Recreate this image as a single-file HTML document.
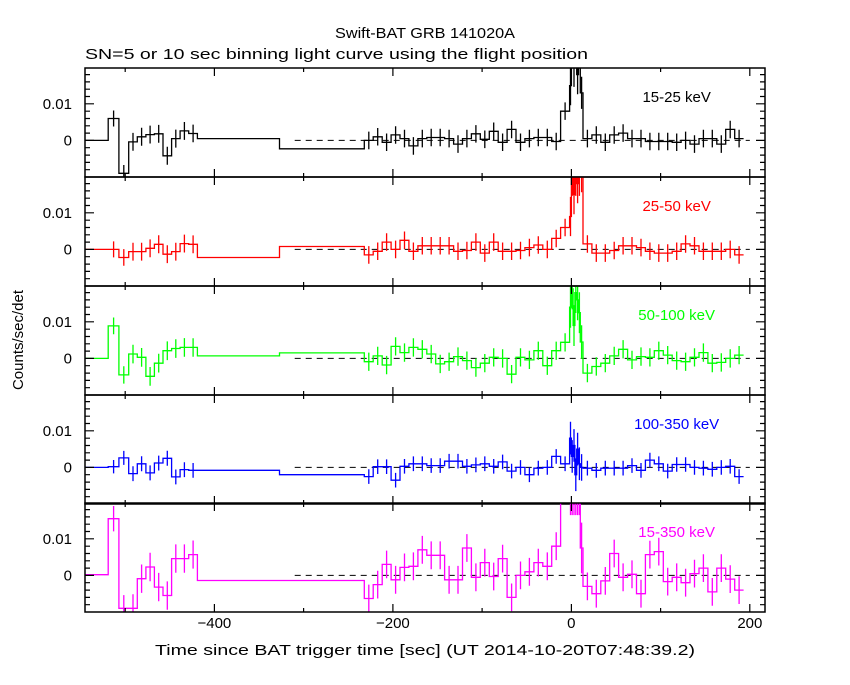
<!DOCTYPE html>
<html><head><meta charset="utf-8"><style>
body{margin:0;background:#fff;}
svg text{font-family:"Liberation Sans",sans-serif;}
</style></head><body>
<svg id="chart" width="850" height="680" viewBox="0 0 850 680" xmlns="http://www.w3.org/2000/svg">
<rect width="850" height="680" fill="#fff"/>
<text x="425" y="38" text-anchor="middle" font-size="15" textLength="180" lengthAdjust="spacingAndGlyphs">Swift-BAT GRB 141020A</text>
<text x="85" y="59" font-size="15" textLength="503" lengthAdjust="spacingAndGlyphs">SN=5 or 10 sec binning light curve using the flight position</text>
<text transform="translate(23,340) rotate(-90)" text-anchor="middle" font-size="15">Counts/sec/det</text>
<text x="425" y="655" text-anchor="middle" font-size="15" textLength="540" lengthAdjust="spacingAndGlyphs">Time since BAT trigger time [sec] (UT 2014-10-20T07:48:39.2)</text>
<g id="plots"></g>
</svg>
<script>
// bin edges (sec)
const binEdges = [-545,-519,-507,-496,-486.4,-476.8,-467.2,-457.6,-448,-438.4,-428.8,-419,-327,
 -232,-222,-212,-202,-192,-182,-172,-162,-152,-142,-132,-122,-112,-102,-92,-82,-72,-62,-52,-42,-32,-22,-12,
 -2,0,2,4,6,8,10,
 13,23,33,43,53,63,73,83,93,103,113,123,133,143,153,163,173,183,193];
const bandLabels = ['15-25 keV','25-50 keV','50-100 keV','100-350 keV','15-350 keV'];
const bandColors = ['#000000','#ff0000','#00ff00','#0000ff','#ff00ff'];
// values in units of 0.001 counts/sec/det
const band1 = [0,6,-9,-0.4,1,1.6,1.8,-4.2,0.5,2.6,1.9,0.5,-2.3,
 0,1,-0.5,1.5,0.5,-1.5,0.5,0.8,0.8,0.5,-1,0.5,1.8,0.3,2.5,-0.5,3,-0.5,0.5,0.8,0.8,-0.3,8,
 15,25,20,25,18,25,13,
 0.5,1.5,-0.5,1.5,2,0.5,0.5,-0.3,-0.3,-0.3,-0.5,0,-1,0.5,0.5,-1,3,0.5];
const band2 = [0,0,-2.2,-0.6,-0.6,0.3,1.4,-1.3,-0.6,1.6,1.4,-2.2,0.8,
 -1.5,-0.5,2,0,2.5,-0.5,1,1,1,1,-0.5,-0.3,2,-1,2,-0.5,-0.5,-0.3,0.5,1.2,0,3,6,
 9,20,15,20,18,20,20,
 1.5,-1,-1,-0.3,1,1,0.5,-0.5,-1,-1,-0.5,1.5,1,-0.5,-0.5,-0.5,0,-1.5];
const band3 = [0,8.9,-4.5,1.2,0.3,-4.9,-1.3,2.1,2.7,3,3,0.7,1.5,
 -0.9,0.7,-1.8,3.3,1.6,3,2.5,1.2,-1.5,-0.9,0.5,-0.6,-2.5,-1.3,0.3,0,-4.3,0.3,-0.4,2.1,-2,2.1,4.4,
 14,19,9,18,16,12.5,4.5,
 -4,-2.2,-1.3,0.7,2.5,-0.4,0.5,0.3,2.1,0.9,-0.6,-0.9,0.3,1.6,-1.3,-1.1,0,0.9];
const band4 = [0,0.2,2.6,-1.7,1,-1.5,1.2,2.5,-2.6,-0.6,-0.8,-0.8,-2,
 -2.5,0.2,0.2,-3.5,0.3,1,1,0.5,0.5,1.7,1.7,0.3,0.7,1,0.3,1.5,-1,0,-2,-0.2,0,3,1,
 8,3,6,-2,5,1,0,
 -0.2,-0.8,-0.2,-0.2,-0.2,0.5,-0.8,2,1,-1,0.8,0.8,0,-0.2,-0.5,0,0.3,-2.5];
const band5 = [0.2,15.5,-9,-9,-0.9,2.3,-3.2,-5.5,4.6,4.6,5.7,-1.4,-1.4,
 -6.3,-2.5,3,-1.2,2.2,2.5,7,5.5,5.5,-1.2,-1.2,7.5,-0.5,3.5,-0.3,4.6,-6,0,1,3.5,2.5,8,25,
 25,25,25,25,25,25,7.5,
 -3,-5,-1.5,6,-0.5,0.3,-5,5.7,6.5,-1.7,-0.5,-2,0.5,2,-4.5,2,-1,-4];
const bandValues = [band1,band2,band3,band4,band5];
const errBase = [2.4,2.4,2.5,2.0,3.8];
const xTicks = [-400,-200,0,200];
const xMinor = [-500,-300,-100,100];

const X0=85,X1=765,T0=-545,T1=217;
const panelTops=[68,177,286,395,503];
const PH=109, YMIN=-0.0100, YMAX=0.0198;
function xs(t){return X0+(t-T0)/(T1-T0)*(X1-X0);}
function ys(v,p){return panelTops[p]+PH-(v-YMIN)/(YMAX-YMIN)*PH;}
const NS='http://www.w3.org/2000/svg';
const root=document.getElementById('plots');
function mk(tag,attrs,parent){const e=document.createElementNS(NS,tag);for(const k in attrs)e.setAttribute(k,attrs[k]);(parent||root).appendChild(e);return e;}

for(let p=0;p<5;p++){
  const g=mk('g',{});
  
  
  const top=panelTops[p], bot=top+PH;
  const cp=mk('clipPath',{id:'cp'+p},g);
  mk('rect',{x:X0,y:top,width:X1-X0,height:PH},cp);
  const z=mk('line',{x1:xs(-310),x2:xs(200),y1:ys(0,p),y2:ys(0,p),stroke:'#000','stroke-dasharray':'6,5','stroke-width':1},g);
  
  
  const vals=bandValues[p].map(v=>v*0.001);
  let d='';
  for(let i=0;i<vals.length;i++){
    const xa=xs(binEdges[i]),xb=xs(binEdges[i+1]),y=ys(vals[i],p);
    d+=(i===0?'M':'L')+xa.toFixed(1)+','+y.toFixed(1)+'L'+xb.toFixed(1)+','+y.toFixed(1);
  }
  const gd=mk('g',{'clip-path':'url(#cp'+p+')'},g);
  const path=mk('path',{d:d,fill:'none',stroke:bandColors[p],'stroke-width':1.3},gd);
  
  
  let ed='';
  for(let i=1;i<vals.length;i++){
    if(i===11||i===12)continue;
    const w=binEdges[i+1]-binEdges[i];
    const e=errBase[p]*0.001*Math.min(2.5,Math.sqrt(10/w));
    const xc=xs((binEdges[i]+binEdges[i+1])/2);
    ed+='M'+xc.toFixed(1)+','+ys(vals[i]+e,p).toFixed(1)+'L'+xc.toFixed(1)+','+ys(vals[i]-e,p).toFixed(1);
  }
  const eb=mk('path',{d:ed,fill:'none',stroke:bandColors[p],'stroke-width':1.3},gd);
  
  
  const fr=mk('rect',{x:X0,y:top,width:X1-X0,height:PH,fill:'none',stroke:'#000','stroke-width':1.5},g);
  
  
  let td='';
  for(let k=-8;k<=18;k+=2){
    const v=k*0.001; if(v<YMIN||v>YMAX)continue;
    const y=ys(v,p); const L=(k%10===0)?9:5;
    td+='M'+X0+','+y.toFixed(1)+'h'+L+'M'+X1+','+y.toFixed(1)+'h'+(-L);
  }
  xTicks.forEach(t=>{const x=xs(t);td+='M'+x.toFixed(1)+','+top+'v8M'+x.toFixed(1)+','+bot+'v-8';});
  xMinor.forEach(t=>{const x=xs(t);td+='M'+x.toFixed(1)+','+top+'v4M'+x.toFixed(1)+','+bot+'v-4';});
  const tk=mk('path',{d:td,stroke:'#000','stroke-width':1.2,fill:'none'},g);
  
  
  const l1=mk('text',{x:72,y:ys(0.01,p)+5,'text-anchor':'end','font-size':15},g);
  l1.textContent='0.01';
  
  
  const l0=mk('text',{x:72,y:ys(0,p)+5,'text-anchor':'end','font-size':15},g);
  l0.textContent='0';
  
  
  const lab=mk('text',{x:xs(118),y:top+34,'text-anchor':'middle','font-size':15,fill:bandColors[p]},g);
  lab.textContent=bandLabels[p];
  
  
}
xTicks.forEach(t=>{
  const tl=mk('text',{x:xs(t),y:628,'text-anchor':'middle','font-size':15});
  tl.textContent=String(t).replace('-','\u2212');
  
  
});
</script>
</body></html>
